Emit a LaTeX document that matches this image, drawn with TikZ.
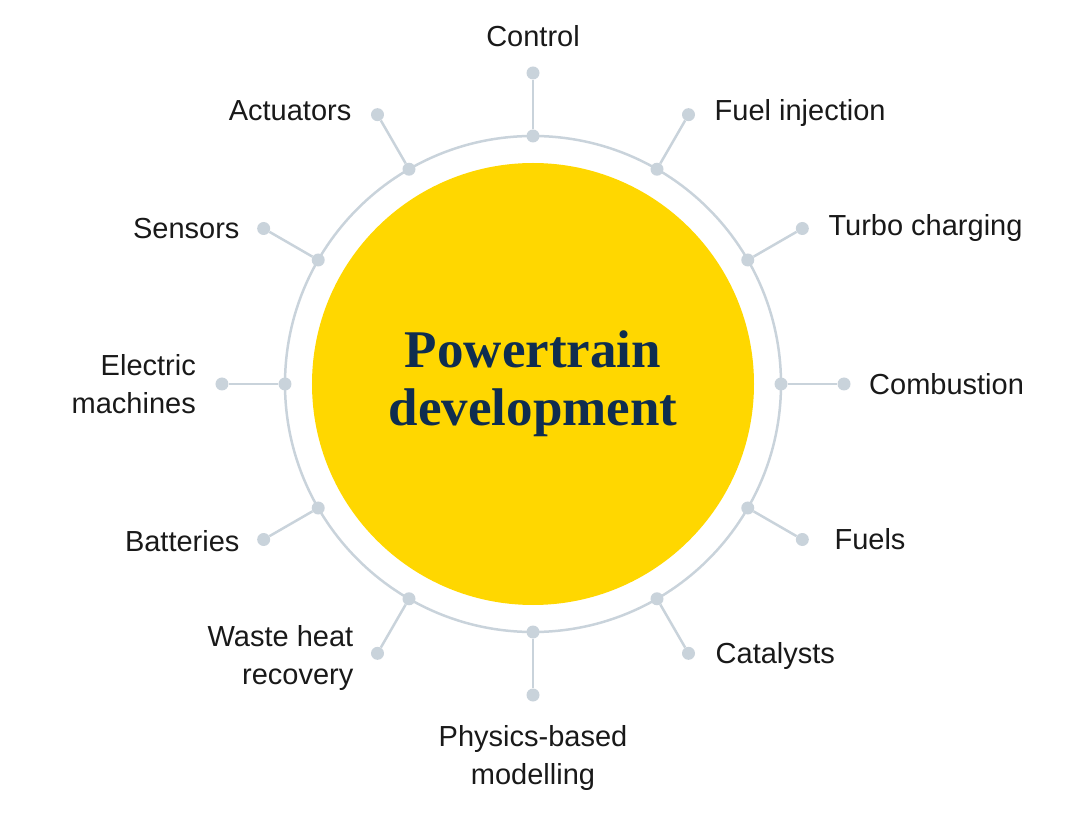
\documentclass[tikz,border=0pt]{standalone}
\usepackage{fontspec}
\setmainfont{Liberation Sans}
\newfontfamily\titlefont{Liberation Serif}
\usetikzlibrary{positioning}
\definecolor{ptyellow}{HTML}{FFD700}
\definecolor{ptnavy}{HTML}{0F2D4F}
\definecolor{ptgrey}{HTML}{C9D3DB}
\begin{document}
\begin{tikzpicture}[x=1pt,y=1pt]
    \tikzset{
        hub/.style = {circle, fill=ptyellow, minimum size=442pt, inner sep=0pt},
        ring/.style = {draw=ptgrey, line width=2.5pt},
        spoke/.style = {draw=ptgrey, line width=2.5pt},
        dot/.style = {circle, fill=ptgrey, minimum size=13pt, inner sep=0pt},
        topic/.style = {font=\fontsize{29}{38}\selectfont, text=black!90, inner sep=0pt},
    }
    \useasboundingbox (-533,-429) rectangle (534,384);

    \node[hub](hub) at (0,0){};
    \path [ring] (0,0) circle (248);
    \node[align=center, text=ptnavy, font=\titlefont\bfseries\fontsize{53}{58}\selectfont] (title) at (0,0){Powertrain\\development};

    \foreach \ang/\name in {90/control, 60/fuel, 30/turbo, 0/comb, -30/fuels, -60/cat,
        -90/phys, -120/waste, -150/batt, 180/elec, 150/sens, 120/act}{
        \node[dot](in-\name) at (\ang:248){};
        \node[dot](out-\name) at (\ang:311){};
        \path [spoke] (in-\name) -- (out-\name);
    }
    % labels
    \node[topic, anchor=south] (t-control) at ([yshift=26pt]out-control) {Control};
    \node[topic, anchor=west] (t-fuel) at ([xshift=26pt,yshift=2pt]out-fuel) {Fuel injection};
    \node[topic, anchor=west] (t-turbo) at ([xshift=26pt]out-turbo) {Turbo charging};
    \node[topic, anchor=west] (t-comb) at ([xshift=25pt]out-comb) {Combustion};
    \node[topic, anchor=west] (t-fuels) at ([xshift=32pt]out-fuels) {Fuels};
    \node[topic, anchor=west] (t-cat) at ([xshift=27pt,yshift=-3pt]out-cat) {Catalysts};
    \node[topic, anchor=north, align=center] (t-phys) at ([yshift=-30pt]out-phys) {Physics-based\\modelling};
    \node[topic, anchor=east, align=right] (t-waste) at ([xshift=-24pt,yshift=-5pt]out-waste) {Waste heat\\recovery};
    \node[topic, anchor=east] (t-batt) at ([xshift=-24pt,yshift=-2pt]out-batt) {Batteries};
    \node[topic, anchor=east, align=right] (t-elec) at ([xshift=-26pt]out-elec) {Electric\\machines};
    \node[topic, anchor=east] (t-sens) at ([xshift=-24pt]out-sens) {Sensors};
    \node[topic, anchor=east] (t-act) at ([xshift=-26pt,yshift=4pt]out-act) {Actuators};
\end{tikzpicture}
\end{document}
